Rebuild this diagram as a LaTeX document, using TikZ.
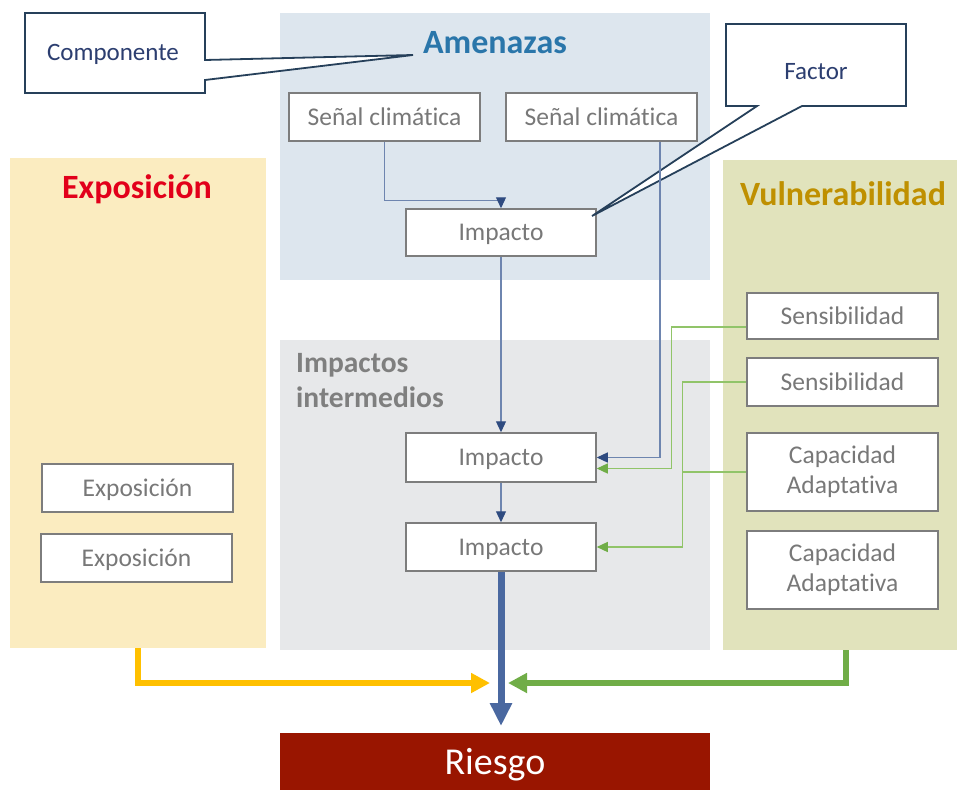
\documentclass[tikz,border=0pt]{standalone}
\usepackage{fontspec}
\setmainfont{Carlito}[Ligatures=NoCommon]
\usetikzlibrary{arrows.meta}
\definecolor{ameBg}{RGB}{221,230,238}
\definecolor{impBg}{RGB}{231,232,234}
\definecolor{expBg}{RGB}{251,236,192}
\definecolor{vulBg}{RGB}{225,227,188}
\definecolor{boxBorder}{RGB}{125,125,125}
\definecolor{boxText}{RGB}{120,120,120}
\definecolor{ameTitle}{RGB}{42,118,170}
\definecolor{expTitle}{RGB}{226,0,26}
\definecolor{vulTitle}{RGB}{191,144,0}
\definecolor{impTitle}{RGB}{127,127,127}
\definecolor{callText}{RGB}{44,62,112}
\definecolor{callBorder}{RGB}{38,64,90}
\definecolor{riskFill}{RGB}{153,21,0}
\definecolor{thinBlue}{RGB}{110,133,175}
\definecolor{tipBlue}{RGB}{47,75,128}
\definecolor{thinGreen}{RGB}{145,196,105}
\definecolor{tipGreen}{RGB}{112,173,71}
\definecolor{thickYellow}{RGB}{255,192,0}
\definecolor{thickGreen}{RGB}{112,173,71}
\definecolor{thickBlue}{RGB}{74,104,160}
\tikzset{
  panel/.style={rectangle, draw=none, inner sep=0pt},
  boxnode/.style={rectangle, draw=boxBorder, line width=1.5pt, fill=white, inner sep=0pt,
    text=boxText, font=\fontsize{25.5}{30}\selectfont, align=center},
  oneline/.style={text height=19pt, text depth=3pt},
  titletext/.style={font=\bfseries\fontsize{34}{40}\selectfont, inner sep=0pt},
  calltext/.style={text=callText, font=\fontsize{25}{30}\selectfont, inner sep=0pt},
  callout/.style={draw=callBorder, line width=1.8pt, fill=white, line join=miter},
  thinB/.style={draw=thinBlue, line width=1.2pt, -{Triangle[length=11pt,width=10pt,color=tipBlue]}},
  thinG/.style={draw=thinGreen, line width=1.2pt, -{Triangle[length=11pt,width=10pt,color=tipGreen]}},
  thinGplain/.style={draw=thinGreen, line width=1.2pt},
  thickY/.style={draw=thickYellow, line width=6.5pt, -{Triangle[length=19pt,width=19pt]}},
  thickG/.style={draw=thickGreen, line width=6.5pt, -{Triangle[length=19pt,width=19pt]}},
  thickB/.style={draw=thickBlue, line width=7pt, -{Triangle[length=23pt,width=21pt]}},
}
\begin{document}
\begin{tikzpicture}[x=1pt,y=-1pt]
\useasboundingbox (0,0) rectangle (957,789);
% panels
\node[panel, fill=ameBg, minimum width=430pt, minimum height=267pt] (amePanel) at (495,146.5) {};
\node[panel, fill=impBg, minimum width=430pt, minimum height=310pt] (impPanel) at (495,495) {};
\node[panel, fill=expBg, minimum width=256pt, minimum height=490pt] (expPanel) at (138,403) {};
\node[panel, fill=vulBg, minimum width=239pt, minimum height=490pt] (vulPanel) at (842.5,405) {};
\node[panel, fill=riskFill, minimum width=430pt, minimum height=64pt, text=white,
  font=\fontsize{38}{44}\selectfont] (risk) at (495,765) {Riesgo};
% titles
\node[titletext, text=ameTitle] (ameT) at (495,43) {Amenazas};
\node[titletext, text=expTitle] (expT) at (137,189) {Exposición};
\node[titletext, text=vulTitle] (vulT) at (843,194) {Vulnerabilidad};
\node[inner sep=0pt, anchor=north west, align=left, text=impTitle,
  font=\bfseries\fontsize{29.5}{35}\selectfont] (impT) at (296,353) {Impactos\\intermedios};
% boxes
\node[boxnode, oneline, minimum width=191pt, minimum height=48pt] (sen1) at (384.5,117) {Señal climática};
\node[boxnode, oneline, minimum width=191pt, minimum height=48pt] (sen2) at (601.5,117) {Señal climática};
\node[boxnode, oneline, minimum width=190pt, minimum height=47pt] (imp1) at (501,232.5) {Impacto};
\node[boxnode, oneline, minimum width=190pt, minimum height=49pt] (imp2) at (501,457.5) {Impacto};
\node[boxnode, oneline, minimum width=190pt, minimum height=48pt] (imp3) at (501,547) {Impacto};
\node[boxnode, oneline, minimum width=191pt, minimum height=48pt] (ex1) at (137.5,488) {Exposición};
\node[boxnode, oneline, minimum width=191pt, minimum height=48pt] (ex2) at (136.5,558) {Exposición};
\node[boxnode, oneline, minimum width=191pt, minimum height=46pt] (sens1) at (842.5,316) {Sensibilidad};
\node[boxnode, oneline, minimum width=191pt, minimum height=48pt] (sens2) at (842.5,382) {Sensibilidad};
\node[boxnode, minimum width=191pt, minimum height=78pt] (cap1) at (842.5,472) {Capacidad\\Adaptativa};
\node[boxnode, minimum width=191pt, minimum height=78pt] (cap2) at (842.5,570) {Capacidad\\Adaptativa};
% callouts
\coordinate (compTip) at (413,55);
\coordinate (factTip) at (592,216);
\draw[callout] (25,13) -- (205,13) -- (205,60) -- (compTip) -- (205,80) -- (205,93) -- (25,93) -- cycle;
\node[calltext] (comp) at (113,54) {Componente};
\draw[callout] (726,24) -- (906,24) -- (906,106) -- (802,106) -- (factTip) -- (757,106) -- (726,106) -- cycle;
\node[calltext] (fact) at (816,72) {Factor};
% thin blue connectors
\draw[thinB] (sen1.south) -- ++(0,59) -| (imp1.north);
\draw[thinB] ([xshift=58.5pt]sen2.south) |- (imp2.east);
\draw[thinB] (imp1.south) -- (imp2.north);
\draw[thinB] (imp2.south) -- (imp3.north);
% thin green connectors
\draw[thinG] ([yshift=-11pt]sens1.west) -- ++(-75,0) |- ([yshift=-11pt]imp2.east);
\draw[thinG] (sens2.west) -- ++(-64,0) |- (imp3.east);
\draw[thinGplain] (cap1.west) -- ++(-64,0);
% thick arrows
\coordinate (yTip) at (490,683);
\coordinate (gTip) at (508,683);
\coordinate (bTip) at (501,726);
\draw[thickY] (expPanel.south) |- (yTip);
\draw[thickG] ([xshift=3.5pt]vulPanel.south) |- (gTip);
\draw[thickB] (imp3.south) -- (bTip);
\end{tikzpicture}
\end{document}
